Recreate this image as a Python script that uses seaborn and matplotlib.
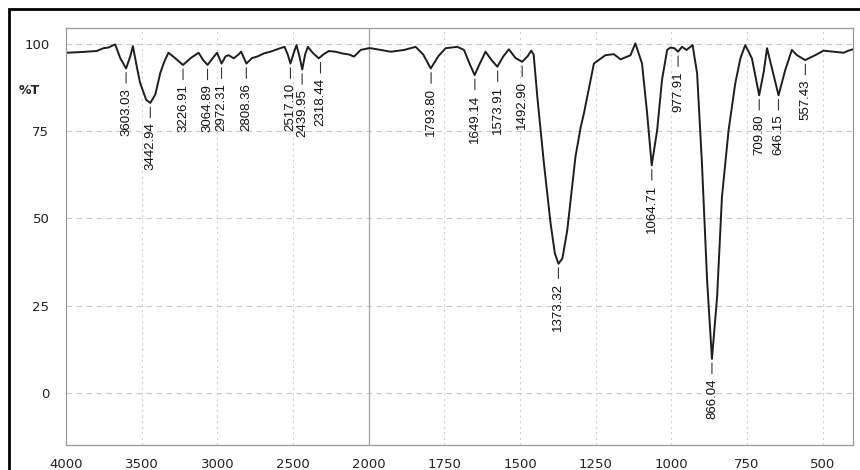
## FTIR spectrum (%T vs wavenumber) with peak labels

import numpy as np
import pandas as pd
import seaborn as sns
import matplotlib.pyplot as plt
from matplotlib.patches import Rectangle
from matplotlib.ticker import FixedLocator, NullFormatter

# spectrum (wavenumber in cm-1, transmittance in %)
wavenumber = [4000, 3900, 3797, 3753, 3720, 3675, 3642, 3603, 3575, 3558, 3530, 3510,
              3470, 3443, 3410, 3377, 3350, 3323, 3280, 3227, 3175, 3124, 3095, 3065,
              3030, 3002, 2972, 2945, 2925, 2892, 2860, 2843, 2808, 2770, 2737, 2693,
              2649, 2605, 2556, 2535, 2517, 2495, 2477, 2455, 2439, 2420, 2402, 2370,
              2330, 2300, 2263, 2220, 2174, 2130, 2097, 2053, 2000,
              1993, 1927, 1883, 1845, 1820, 1795, 1770, 1746, 1707, 1685, 1665, 1650,
              1635, 1614, 1595, 1575, 1555, 1537, 1515, 1493, 1475, 1463, 1455, 1443,
              1421, 1399, 1385, 1373, 1360, 1344, 1317, 1300, 1289, 1256, 1218, 1190,
              1168, 1135, 1119, 1097, 1080, 1065, 1047, 1031, 1014, 1003, 990, 978,
              965, 950, 930, 915, 899, 882, 866, 849, 833, 811, 789, 772, 756, 734,
              710, 695, 684, 665, 646, 624, 602, 585, 558, 525, 497, 464, 431, 415, 400]
transmittance = [97.5, 97.7, 98.0, 98.8, 99.0, 99.9, 96.0, 93.0, 96.5, 99.4, 93.0, 88.8,
                 84.0, 83.1, 85.5, 91.7, 95.0, 97.5, 96.0, 94.0, 96.0, 97.5, 95.5, 94.0,
                 96.0, 97.5, 94.4, 96.5, 96.8, 95.9, 97.0, 97.8, 94.4, 96.0, 96.4, 97.3,
                 97.8, 98.5, 99.2, 97.0, 94.4, 97.5, 99.7, 96.0, 92.7, 97.0, 99.2, 97.5,
                 95.9, 97.0, 98.0, 97.8, 97.3, 97.0, 96.4, 98.3, 98.8,
                 98.8, 97.8, 98.3, 99.2, 97.0, 93.0, 96.5, 98.8, 99.2, 98.3, 94.0, 91.1,
                 94.0, 97.8, 95.5, 93.5, 96.5, 98.5, 96.0, 94.9, 96.5, 98.1, 97.0, 84.9,
                 65.7, 48.5, 40.0, 37.0, 38.5, 46.6, 67.6, 76.0, 80.1, 94.4, 96.8, 97.1,
                 95.6, 96.8, 100.2, 94.4, 80.0, 65.2, 75.3, 89.7, 98.3, 99.0, 98.8, 97.8,
                 99.2, 98.3, 99.7, 91.6, 65.7, 32.2, 9.7, 27.4, 56.1, 75.3, 88.7, 95.9, 99.7, 95.9,
                 85.3, 92.0, 98.8, 92.0, 85.3, 92.5, 98.3, 96.8, 95.4, 96.8, 98.1, 97.8, 97.5, 98.1, 98.5]

# labelled peaks
peak_wn = [3603.03, 3442.94, 3226.91, 3064.89, 2972.31, 2808.36, 2517.10, 2439.95, 2318.44,
           1793.80, 1649.14, 1573.91, 1492.90, 1373.32, 1064.71, 977.91, 866.04, 709.80,
           646.15, 557.43]
peak_t = [93.0, 83.1, 94.0, 94.0, 94.4, 94.4, 94.4, 92.7, 95.9,
          93.0, 91.1, 93.5, 94.9, 37.0, 65.2, 97.8, 9.7, 85.3, 85.3, 95.4]

x_major = [4000, 3500, 3000, 2500, 2000, 1750, 1500, 1250, 1000, 750, 500]
y_major = [0, 25, 50, 75, 100]

df = pd.DataFrame({"wn": wavenumber, "T": transmittance})


# the x axis is stretched by 2 below 2000 cm-1
def fwd(x):
    x = np.asarray(x, dtype=float)
    return np.where(x >= 2000, x - 2000, 2 * (x - 2000))


def inv(y):
    y = np.asarray(y, dtype=float)
    return np.where(y >= 0, y + 2000, y / 2 + 2000)


sns.set_style("white")
plt.rcParams['font.family'] = ['DejaVu Sans']

fig = plt.figure(figsize=(8.6, 4.7), dpi=100)
ax = fig.add_axes([66 / 860, 1 - 445 / 470, (853 - 66) / 860, (445 - 28) / 470])

ax.set_xscale("function", functions=(fwd, inv))
sns.lineplot(data=df, x="wn", y="T", ax=ax, color="#1e1e1e", linewidth=1.4,
             estimator=None, sort=False)
ax.set_xlim(4000, 400)
ax.set_ylim(-15, 104.6)

ax.xaxis.set_major_locator(FixedLocator(x_major))
minors = list(range(4000, 2000, -100)) + list(range(2000, 399, -50))
ax.xaxis.set_minor_locator(FixedLocator(minors))
ax.xaxis.set_minor_formatter(NullFormatter())
ax.yaxis.set_major_locator(FixedLocator(y_major))
ax.yaxis.set_minor_locator(FixedLocator(list(range(-10, 101, 5))))
ax.yaxis.set_minor_formatter(NullFormatter())
ax.set_xticklabels([str(v) for v in x_major])

ax.tick_params(axis="y", which="major", direction="out", length=11, width=0.8,
               color="#777777", labelsize=9.5, labelcolor="#222222", pad=1)
ax.tick_params(axis="y", which="minor", direction="out", length=4, width=0.7, color="#777777")
ax.tick_params(axis="x", which="major", direction="out", length=5, width=0.8,
               color="#777777", labelsize=9.5, labelcolor="#222222", pad=4)
ax.tick_params(axis="x", which="minor", direction="out", length=4, width=0.7, color="#777777")

for s in ax.spines.values():
    s.set_color("#9a9a9a")
    s.set_linewidth(0.9)

# grid
for v in y_major:
    ax.axhline(v, color="#c8c8c8", lw=0.8, ls=(0, (5, 4)), zorder=0)
for v in x_major[1:]:
    if v == 2000:
        ax.axvline(v, color="#a0a0a0", lw=0.9, zorder=0)
    else:
        ax.axvline(v, color="#d2d2d2", lw=0.8, ls=(0, (2, 3)), zorder=0)

ax.set_xlabel("")
ax.set_ylabel("")
ax.text(-0.047, 0.849, "%T", transform=ax.transAxes, ha="center", va="center",
        fontsize=9, fontweight="bold", color="#222222")

# peak labels
for wn, t in zip(peak_wn, peak_t):
    ax.annotate(f"{wn:.2f}", xy=(wn, t), xytext=(0, -14), textcoords="offset points",
                rotation=90, ha="center", va="top", fontsize=9.5, color="#111111",
                family=["Liberation Sans Narrow", "Liberation Sans"],
                arrowprops=dict(arrowstyle="-", color="#333333", lw=0.8,
                                shrinkA=1, shrinkB=3))

# outer frame of the original scan
fig.patches.append(Rectangle((9 / 860, -0.2), 1.2, 1.2 - 9 / 470, transform=fig.transFigure,
                             fill=False, edgecolor="black", linewidth=2))

fig.savefig("out.png", dpi=100)
